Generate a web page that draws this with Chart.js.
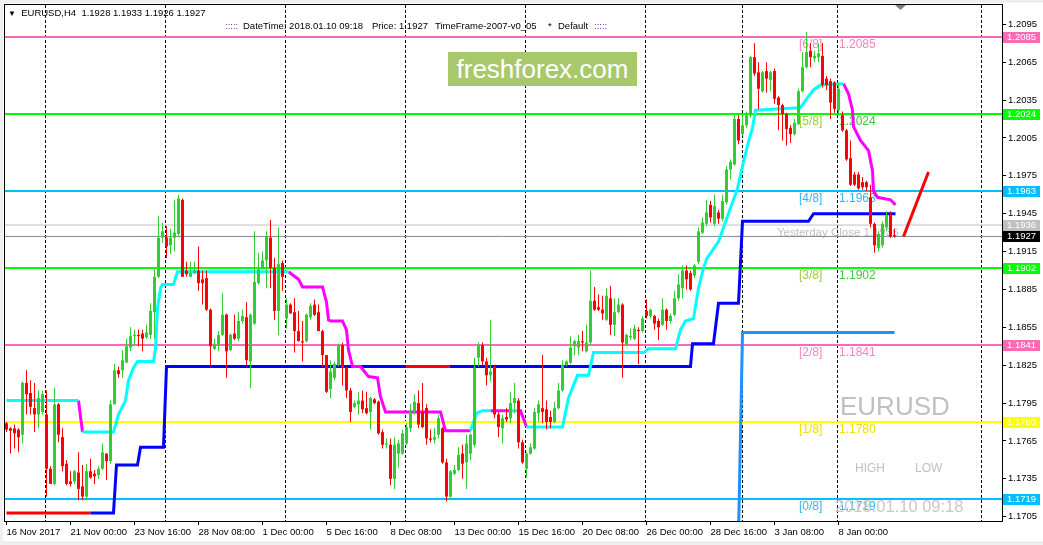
<!DOCTYPE html>
<html>
<head>
<meta charset="utf-8">
<script src="https://cdn.jsdelivr.net/npm/chart.js@4.4.1/dist/chart.umd.min.js"></script>
<style>
  body { margin: 0; background: #f0f0f0; }
  #wrap { position: relative; width: 1043px; height: 545px; overflow: hidden; font-family: "Liberation Sans", Arial, sans-serif; }
  canvas { position: absolute; left: 0; top: 0; }
  .t { position: absolute; white-space: pre; line-height: 1; }
  #logo { position: absolute; left: 448px; top: 52px; width: 189px; height: 34px; background: #a8c96b; color: #fff;
          font-size: 26px; display: flex; align-items: center; justify-content: center; }
</style>
</head>
<body>
<div id="wrap">
  <canvas id="chart" width="1043" height="545"></canvas>

  <div class="t" style="left:8px;top:8px;font-size:9.5px;color:#000"><span style="font-size:8px">▼</span>  EURUSD,H4  1.1928 1.1933 1.1926 1.1927</div>
  <div class="t" style="left:225px;top:21px;font-size:9.5px;color:#7030a0">:::::</div>
  <div class="t" style="left:243px;top:21px;font-size:9.5px;color:#000">DateTime: 2018.01.10 09:18</div>
  <div class="t" style="left:372px;top:21px;font-size:9.5px;color:#000">Price: 1.1927</div>
  <div class="t" style="left:435px;top:21px;font-size:9.5px;color:#000">TimeFrame-2007-v0_05</div>
  <div class="t" style="left:548px;top:21px;font-size:9.5px;color:#000">*</div>
  <div class="t" style="left:558px;top:21px;font-size:9.5px;color:#000">Default</div>
  <div class="t" style="left:594px;top:21px;font-size:9.5px;color:#7030a0">:::::</div>

  <div id="logo">freshforex.com</div>

  <div class="t" style="left:840px;top:393px;font-size:26px;color:#c0c0c0">EURUSD</div>
  <div class="t" style="left:855px;top:462px;font-size:12px;color:#c0c0c0">HIGH</div>
  <div class="t" style="left:915px;top:462px;font-size:12px;color:#c0c0c0">LOW</div>
  <div class="t" style="left:835px;top:498px;font-size:16.5px;color:#c8c8c8">2018.01.10 09:18</div>
</div>

<script>
// ================= DATA =================
const opens = [
  1.1779,1.1775,1.1775,1.1774,1.1770,1.1811,1.1803,1.1791,1.1786,1.1788,
  1.1786,1.1743,1.1731,1.1794,1.1768,1.1747,1.1733,1.1733,1.1740,1.1729,
  1.1721,1.1741,1.1739,1.1738,1.1743,1.1755,1.1749,1.1794,1.1821,1.1821,
  1.1827,1.1839,1.1848,1.1849,1.1850,1.1847,1.1849,1.1867,1.1895,1.1926,
  1.1926,1.1920,1.1926,1.1929,1.1956,1.1900,1.1895,1.1898,1.1900,1.1893,
  1.1894,1.1869,1.1838,1.1841,1.1849,1.1865,1.1837,1.1850,1.1846,1.1860,
  1.1863,1.1828,1.1858,1.1890,1.1901,1.1908,1.1926,1.1902,1.1868,1.1906,
  1.1862,1.1873,1.1867,1.1852,1.1844,1.1844,1.1863,1.1873,1.1867,1.1852,
  1.1833,1.1806,1.1815,1.1825,1.1841,1.1823,1.1805,1.1792,1.1794,1.1797,
  1.1791,1.1788,1.1798,1.1796,1.1772,1.1762,1.1762,1.1735,1.1755,1.1755,
  1.1763,1.1775,1.1788,1.1795,1.1788,1.1791,1.1767,1.1766,1.1770,1.1775,
  1.1748,1.1721,1.1739,1.1742,1.1755,1.1748,1.1755,1.1762,1.1831,1.1841,
  1.1828,1.1817,1.1824,1.1786,1.1775,1.1784,1.1783,1.1795,1.1797,1.1764,
  1.1743,1.1755,1.1759,1.1787,1.1791,1.1790,1.1784,1.1780,1.1791,1.1805,
  1.1825,1.1827,1.1840,1.1839,1.1844,1.1836,1.1843,1.1876,1.1871,1.1869,
  1.1861,1.1878,1.1857,1.1867,1.1873,1.1841,1.1847,1.1846,1.1853,1.1852,
  1.1868,1.1864,1.1864,1.1860,1.1857,1.1869,1.1860,1.1865,1.1878,1.1886,
  1.1900,1.1898,1.1896,1.1907,1.1930,1.1937,1.1952,1.1937,1.1946,1.1941,
  1.1954,1.1980,1.1984,1.2020,1.2008,1.2015,1.2023,1.2069,1.2057,1.2042,
  1.2058,1.2051,1.2058,1.2037,1.2031,1.2024,1.2013,1.2008,1.2016,1.2042,
  1.2061,1.2074,1.2068,1.2069,1.2070,1.2052,1.2050,1.2049,1.2027,1.2023,
  1.2011,1.1989,1.1976,1.1976,1.1970,1.1970,1.1958,1.1937,1.1918,1.1920,
  1.1934,1.1944,1.1928
];
const highs = [
  1.1780,1.1776,1.1778,1.1775,1.1812,1.1821,1.1813,1.1811,1.1805,1.1805,
  1.1805,1.1745,1.1807,1.1795,1.1775,1.1750,1.1741,1.1742,1.1756,1.1746,
  1.1747,1.1751,1.1742,1.1745,1.1763,1.1755,1.1797,1.1826,1.1824,1.1837,
  1.1846,1.1855,1.1853,1.1853,1.1853,1.1857,1.1874,1.1902,1.1943,1.1938,
  1.1935,1.1933,1.1956,1.1960,1.1957,1.1907,1.1907,1.1907,1.1919,1.1900,
  1.1900,1.1870,1.1846,1.1852,1.1882,1.1866,1.1850,1.1865,1.1867,1.1869,
  1.1875,1.1866,1.1931,1.1914,1.1915,1.1931,1.1940,1.1910,1.1934,1.1908,
  1.1878,1.1874,1.1878,1.1868,1.1860,1.1866,1.1874,1.1877,1.1873,1.1853,
  1.1833,1.1829,1.1828,1.1842,1.1843,1.1824,1.1807,1.1797,1.1804,1.1805,
  1.1804,1.1800,1.1799,1.1797,1.1774,1.1767,1.1767,1.1768,1.1766,1.1774,
  1.1779,1.1794,1.1802,1.1805,1.1811,1.1794,1.1774,1.1775,1.1786,1.1776,
  1.1751,1.1742,1.1746,1.1760,1.1762,1.1770,1.1771,1.1831,1.1843,1.1843,
  1.1831,1.1861,1.1825,1.1788,1.1786,1.1791,1.1804,1.1811,1.1799,1.1766,
  1.1756,1.1763,1.1791,1.1797,1.1833,1.1797,1.1789,1.1796,1.1811,1.1829,
  1.1829,1.1848,1.1845,1.1849,1.1852,1.1857,1.1900,1.1887,1.1881,1.1880,
  1.1886,1.1888,1.1878,1.1878,1.1874,1.1850,1.1854,1.1857,1.1855,1.1864,
  1.1877,1.1870,1.1865,1.1862,1.1878,1.1870,1.1866,1.1884,1.1897,1.1904,
  1.1904,1.1900,1.1905,1.1934,1.1942,1.1956,1.1955,1.1960,1.1948,1.1960,
  1.1983,1.1988,1.2023,1.2023,1.2023,1.2026,1.2070,1.2080,1.2065,1.2058,
  1.2065,1.2058,1.2060,1.2038,1.2032,1.2025,1.2015,1.2020,1.2044,1.2073,
  1.2089,1.2080,1.2074,1.2080,1.2080,1.2054,1.2052,1.2050,1.2048,1.2026,
  1.2012,1.2003,1.1978,1.1978,1.1974,1.1971,1.1968,1.1938,1.1931,1.1939,
  1.1947,1.1947,1.1933
];
const lows = [
  1.1772,1.1755,1.1759,1.1756,1.1763,1.1786,1.1786,1.1772,1.1775,1.1786,
  1.1721,1.1731,1.1730,1.1764,1.1741,1.1730,1.1729,1.1731,1.1718,1.1718,
  1.1718,1.1735,1.1731,1.1735,1.1742,1.1734,1.1747,1.1794,1.1815,1.1815,
  1.1827,1.1836,1.1841,1.1840,1.1836,1.1846,1.1846,1.1846,1.1894,1.1922,
  1.1910,1.1913,1.1915,1.1927,1.1895,1.1895,1.1895,1.1897,1.1884,1.1873,
  1.1868,1.1825,1.1837,1.1836,1.1848,1.1815,1.1836,1.1845,1.1844,1.1858,
  1.1825,1.1807,1.1857,1.1889,1.1901,1.1886,1.1886,1.1861,1.1849,1.1884,
  1.1854,1.1866,1.1835,1.1844,1.1828,1.1843,1.1861,1.1864,1.1852,1.1824,
  1.1803,1.1799,1.1813,1.1824,1.1809,1.1799,1.1780,1.1791,1.1786,1.1787,
  1.1786,1.1774,1.1794,1.1770,1.1759,1.1759,1.1730,1.1727,1.1744,1.1754,
  1.1762,1.1772,1.1786,1.1775,1.1775,1.1762,1.1764,1.1763,1.1767,1.1747,
  1.1717,1.1719,1.1738,1.1741,1.1735,1.1727,1.1750,1.1760,1.1824,1.1825,
  1.1809,1.1812,1.1783,1.1768,1.1763,1.1780,1.1779,1.1787,1.1759,1.1747,
  1.1736,1.1754,1.1758,1.1780,1.1779,1.1774,1.1775,1.1779,1.1790,1.1804,
  1.1824,1.1826,1.1833,1.1833,1.1836,1.1835,1.1841,1.1868,1.1868,1.1861,
  1.1860,1.1849,1.1848,1.1866,1.1815,1.1840,1.1845,1.1845,1.1826,1.1851,
  1.1862,1.1862,1.1853,1.1845,1.1856,1.1853,1.1858,1.1864,1.1876,1.1878,
  1.1885,1.1884,1.1894,1.1905,1.1929,1.1935,1.1938,1.1935,1.1937,1.1939,
  1.1952,1.1972,1.1983,1.2000,1.2007,1.2013,1.2021,1.2054,1.2028,1.2041,
  1.2041,1.2042,1.2032,1.2011,1.2003,1.1999,1.2001,1.2007,1.2015,1.2041,
  1.2060,1.2061,1.2065,1.2065,1.2045,1.2043,1.2020,1.2025,1.2024,1.2010,
  1.1987,1.1967,1.1967,1.1964,1.1964,1.1963,1.1934,1.1914,1.1915,1.1918,
  1.1931,1.1926,1.1926
];
const closes = [
  1.1774,1.1773,1.1771,1.1768,1.1811,1.1802,1.1792,1.1786,1.1799,1.1802,
  1.1743,1.1731,1.1794,1.1770,1.1745,1.1731,1.1731,1.1741,1.1727,1.1721,
  1.1741,1.1736,1.1737,1.1743,1.1756,1.1749,1.1794,1.1821,1.1818,1.1829,
  1.1840,1.1848,1.1849,1.1848,1.1846,1.1851,1.1868,1.1895,1.1926,1.1931,
  1.1919,1.1926,1.1930,1.1957,1.1895,1.1897,1.1898,1.1900,1.1890,1.1890,
  1.1869,1.1840,1.1842,1.1849,1.1865,1.1836,1.1849,1.1846,1.1860,1.1864,
  1.1829,1.1865,1.1891,1.1901,1.1908,1.1927,1.1902,1.1868,1.1905,1.1895,
  1.1873,1.1866,1.1852,1.1844,1.1843,1.1865,1.1872,1.1865,1.1852,1.1833,
  1.1804,1.1820,1.1826,1.1841,1.1823,1.1805,1.1788,1.1795,1.1797,1.1790,
  1.1787,1.1799,1.1795,1.1771,1.1762,1.1763,1.1735,1.1762,1.1763,1.1771,
  1.1776,1.1788,1.1796,1.1778,1.1776,1.1767,1.1766,1.1768,1.1783,1.1748,
  1.1721,1.1741,1.1742,1.1754,1.1747,1.1763,1.1770,1.1823,1.1841,1.1828,
  1.1817,1.1820,1.1786,1.1776,1.1783,1.1782,1.1795,1.1799,1.1764,1.1748,
  1.1755,1.1760,1.1788,1.1794,1.1788,1.1780,1.1780,1.1791,1.1805,1.1825,
  1.1828,1.1839,1.1844,1.1844,1.1843,1.1843,1.1876,1.1869,1.1869,1.1866,
  1.1880,1.1857,1.1867,1.1873,1.1843,1.1849,1.1848,1.1854,1.1852,1.1862,
  1.1864,1.1869,1.1858,1.1855,1.1869,1.1860,1.1864,1.1878,1.1889,1.1900,
  1.1893,1.1885,1.1904,1.1931,1.1938,1.1946,1.1942,1.1951,1.1941,1.1955,
  1.1980,1.1986,1.2020,1.2003,1.2015,1.2023,1.2069,1.2056,1.2044,1.2057,
  1.2052,1.2057,1.2036,1.2031,1.2024,1.2012,1.2008,1.2017,1.2042,1.2061,
  1.2073,1.2069,1.2070,1.2072,1.2047,1.2047,1.2033,1.2028,1.2044,1.2011,
  1.1988,1.1968,1.1968,1.1965,1.1966,1.1966,1.1937,1.1920,1.1929,1.1937,
  1.1944,1.1927,1.1927
];

// bottom axis: bar index of each label and its text
const tickIdx = [0, 16, 32, 48, 64, 80, 96, 112, 128, 144, 160, 176, 192, 208];
const tickLabels = ["16 Nov 2017", "21 Nov 00:00", "23 Nov 16:00", "28 Nov 08:00", "1 Dec 00:00",
  "5 Dec 16:00", "8 Dec 08:00", "13 Dec 00:00", "15 Dec 16:00", "20 Dec 08:00",
  "26 Dec 00:00", "28 Dec 16:00", "3 Jan 08:00", "8 Jan 00:00"];
const yTicks = [1.1705, 1.1735, 1.1765, 1.1795, 1.1825, 1.1855, 1.1885, 1.1915,
  1.1945, 1.1975, 1.2005, 1.2035, 1.2065, 1.2095];
const gridIdx = [9.6, 39.6, 69.6, 99.6, 129.6, 159.6, 183.9, 207.6, 243.6];

// murrey math levels
const murreyNames = ["[6/8]", "[5/8]", "[4/8]", "[3/8]", "[2/8]", "[1/8]", "[0/8]"];
const murreyLevels = [1.2085, 1.2024, 1.1963, 1.1902, 1.1841, 1.1780, 1.1719];
const yesterdayClose = 1.1936;
const bidPrice = 1.1927;

// trailing line (cyan = up, magenta = down), null breaks a segment
const cyanX = [0, 18, 18,
  19, 26.75, 28, 29.75, 30.5, 31.75, 32.75, 36.75, 37.25, 37.75, 38.5, 39, 41.75, 42.75, 70.5, 70.5,
  116, 117.5, 119, 121, 121,
  126, 127.5, 127.5,
  130, 139, 140.5, 142.75, 145.5, 146.75, 159.25, 160.5, 167.25, 168.5, 169.75, 171.75, 173, 174, 175,
  178, 180.25, 182.75, 184.25, 185.5, 186.5, 187.25, 198.5, 200.25, 201.75, 203.5, 209.25];
const cyanY = [1.1797, 1.1797, null,
  1.1772, 1.1772, 1.1786, 1.1797, 1.1813, 1.1823, 1.1828, 1.1828, 1.1838, 1.1870, 1.1886, 1.1889, 1.1889, 1.1899, 1.1899, null,
  1.1773, 1.1787, 1.1789, 1.1789, null,
  1.1789, 1.1789, null,
  1.1776, 1.1776, 1.1799, 1.1817, 1.1817, 1.1835, 1.1835, 1.1838, 1.1838, 1.1853, 1.1860, 1.1862, 1.1886, 1.1899, 1.1909,
  1.1923, 1.1943, 1.1965, 1.1986, 1.2002, 1.2013, 1.2027, 1.2029, 1.2037, 1.2043, 1.2047, 1.2048];
const magentaX = [18, 19, 19,
  70.5, 73, 74, 79, 80, 80.5, 81, 84, 85, 85.5, 86.5, 88.5, 90.5, 92.75, 93.5, 94.75, 108.5, 109.75, 116, 116,
  121, 126, 126,
  127.5, 128.5, 130, 130,
  209.25, 210.5, 211.5, 211.75, 213.5, 215.5, 216.5, 216.75, 217.75, 221, 222.25];
const magentaY = [1.1797, 1.1772, null,
  1.1899, 1.1893, 1.1887, 1.1887, 1.1875, 1.1861, 1.1860, 1.1860, 1.1853, 1.1837, 1.1824, 1.1824, 1.1816, 1.1815, 1.1800, 1.1788, 1.1788, 1.1773, 1.1773, null,
  1.1789, 1.1789, null,
  1.1789, 1.1789, 1.1776, null,
  1.2048, 1.2040, 1.2027, 1.2014, 1.2003, 1.1995, 1.1979, 1.1963, 1.1958, 1.1956, 1.1952];

// stepped support line (blue, red where flagged)
const stepX = [21, 26.75, 27.5, 32.75, 33.5, 39.25, 40, 99.75, 99.75,
  110.75, 171, 171.5, 176.75, 178, 183, 184, 200.5, 201.75, 222.25];
const stepY = [1.1708, 1.1708, 1.1746, 1.1746, 1.1760, 1.1760, 1.1824, 1.1824, null,
  1.1824, 1.1824, 1.1842, 1.1842, 1.1874, 1.1874, 1.1939, 1.1939, 1.1945, 1.1945];
const stepRedX = [0, 21, 21, 99.75, 110.75];
const stepRedY = [1.1708, 1.1708, null, 1.1824, 1.1824];

const dodgerX = [182.75, 184, 222];
const dodgerY = [1.1650, 1.1851, 1.1851];

const trendX = [224.25, 230.5];
const trendY = [1.1927, 1.1978];

// ================= STYLE =================
const UP = "#32cd32";
const DOWN = "#ff0000";
const murreyLineColors = ["#ff69b4", "#00ff00", "#00bfff", "#00ff00", "#ff69b4", "#ffff00", "#00bfff"];
const murreyNameColors = ["#ff80c0", "#9acd32", "#33b5f5", "#9acd32", "#ff80c0", "#eee000", "#33b5f5"];
const murreyNumColors = ["#ff80c0", "#3cc83c", "#33b5f5", "#3cc83c", "#ff80c0", "#eee000", "#33b5f5"];
const FONT = '"Liberation Sans", Arial, sans-serif';

const xMin = -0.375;
const xMax = xMin + 997 / 4;

function pts(xs, ys) {
  return xs.map((x, k) => ({ x, y: ys[k] }));
}
function flatLine(v) {
  return [{ x: xMin, y: v }, { x: xMax, y: v }];
}
function lineSet(data, color, width, order) {
  return {
    type: "line", data, borderColor: color, borderWidth: width, pointRadius: 0,
    tension: 0, spanGaps: false, order, borderCapStyle: "butt"
  };
}
const isUp = i => closes[i] >= opens[i];

// ===== DATASETS =====
const datasets = [
  {
    type: "bar",
    data: closes.map((c, i) => ({ x: i, y: [opens[i], c] })),
    backgroundColor: ctx => isUp(ctx.dataIndex) ? UP : DOWN,
    barThickness: 3, grouped: false, minBarLength: 1, inflateAmount: 0, borderWidth: 0, order: 0
  },
  {
    type: "bar",
    data: lows.map((l, i) => ({ x: i, y: [l, highs[i]] })),
    backgroundColor: ctx => isUp(ctx.dataIndex) ? UP : DOWN,
    barThickness: 1, grouped: false, inflateAmount: 0, borderWidth: 0, order: 1
  },
  lineSet(pts(cyanX, cyanY), "#00ffff", 3, 2),
  lineSet(pts(magentaX, magentaY), "#ff00ff", 3, 2),
  lineSet(pts(stepX, stepY), "#0000ff", 3, 2),
  lineSet(pts(stepRedX, stepRedY), "#ff0000", 3, 2),
  lineSet(pts(dodgerX, dodgerY), "#1e90ff", 3, 2),
  lineSet(pts(trendX, trendY), "#ff0000", 3, 2),
  lineSet(flatLine(yesterdayClose), "#c0c0c0", 1, 4),
  lineSet(flatLine(bidPrice), "#778899", 1, 4)
];
murreyLevels.forEach((v, k) => datasets.push(lineSet(flatLine(v), murreyLineColors[k], 2, 3)));

// ===== DRAWING EXTRAS (frame, dashed grid, labels) =====
const extras = {
  id: "extras",
  beforeDraw(c) {
    const g = c.ctx;
    g.save();
    g.fillStyle = "#f0f0f0";
    g.fillRect(0, 0, c.width, c.height);
    g.fillStyle = "#ffffff";
    g.fillRect(3, 3, c.width - 3, c.height - 7);
    g.restore();
  },
  beforeDatasetsDraw(c) {
    const g = c.ctx, a = c.chartArea, xs = c.scales.x, ys = c.scales.y;
    g.save();
    g.strokeStyle = "#000";
    g.lineWidth = 1;
    g.setLineDash([3, 2]);
    gridIdx.forEach(i => {
      const px = Math.round(xs.getPixelForValue(i)) + 0.5;
      g.beginPath();
      g.moveTo(px, a.top);
      g.lineTo(px, a.bottom);
      g.stroke();
    });
    g.setLineDash([]);

    g.font = "12px " + FONT;
    g.textBaseline = "middle";
    g.textAlign = "left";
    murreyLevels.forEach((v, k) => {
      const y = ys.getPixelForValue(v) + 7.5;
      g.fillStyle = murreyNameColors[k];
      g.fillText(murreyNames[k], 799, y);
      g.fillStyle = murreyNumColors[k];
      g.fillText(v.toFixed(4), 839, y);
    });
    g.font = "11.5px " + FONT;
    g.fillStyle = "#c0c0c0";
    g.fillText("Yesterday Close " + yesterdayClose.toFixed(4), 777, ys.getPixelForValue(yesterdayClose) + 7.5);
    g.restore();
  },
  afterDraw(c) {
    const g = c.ctx, a = c.chartArea, ys = c.scales.y;
    g.save();
    g.strokeStyle = "#000";
    g.lineWidth = 1;
    g.strokeRect(a.left - 0.5, a.top - 0.5, a.right - a.left + 1, a.bottom - a.top + 1);

    // price boxes on the right axis
    const boxes = murreyLevels.map((v, k) => [v, murreyLineColors[k]]);
    boxes.push([yesterdayClose, "#c0c0c0"], [bidPrice, "#000000"]);
    g.font = "9.5px " + FONT;
    g.textAlign = "center";
    g.textBaseline = "middle";
    boxes.forEach(([v, col]) => {
      const y = Math.round(ys.getPixelForValue(v));
      g.fillStyle = col;
      g.fillRect(a.right + 1, y - 5, 37, 11);
      g.fillStyle = "#ffffff";
      g.fillText(v.toFixed(4), a.right + 19.5, y + 0.5);
    });

    // shift marker
    g.fillStyle = "#808080";
    g.beginPath();
    g.moveTo(895, 5);
    g.lineTo(906, 5);
    g.lineTo(900.5, 10);
    g.closePath();
    g.fill();
    g.restore();
  }
};

// ===== CHART =====
new Chart(document.getElementById("chart"), {
  type: "bar",
  data: { datasets },
  options: {
    responsive: false,
    animation: false,
    devicePixelRatio: 1,
    events: [],
    layout: { padding: { left: 5, top: 5, right: 0, bottom: 0 } },
    plugins: { legend: { display: false }, tooltip: { enabled: false } },
    scales: {
      x: {
        type: "linear", min: xMin, max: xMax, offset: false,
        afterBuildTicks: s => { s.ticks = tickIdx.map(v => ({ value: v })); },
        afterFit: s => { s.height = 24; s.paddingLeft = 0; s.paddingRight = 0; },
        ticks: {
          align: "start", maxRotation: 0, autoSkip: false, padding: 2, color: "#000",
          font: { family: FONT, size: 9.5 },
          callback: (v, k) => tickLabels[k]
        },
        grid: { drawOnChartArea: false, tickLength: 4, color: "#000", offset: false },
        border: { color: "#000" }
      },
      y: {
        position: "right", min: 1.17016, max: 1.21103,
        afterBuildTicks: s => { s.ticks = yTicks.map(v => ({ value: v })); },
        afterFit: s => { s.width = 41; s.paddingTop = 0; s.paddingBottom = 0; },
        ticks: {
          padding: 2, color: "#000", font: { family: FONT, size: 9.5 },
          callback: v => v.toFixed(4)
        },
        grid: { drawOnChartArea: false, tickLength: 4, color: "#000" },
        border: { color: "#000" }
      }
    }
  },
  plugins: [extras]
});
</script>
</body>
</html>
